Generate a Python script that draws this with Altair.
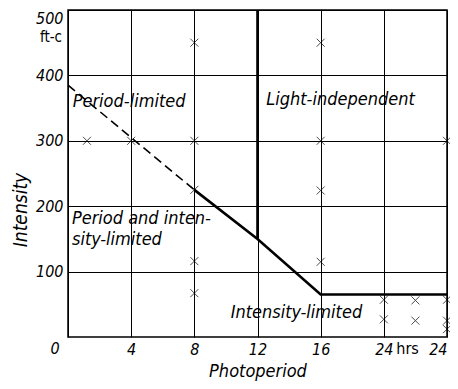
import altair as alt
import pandas as pd

# experimental points (photoperiod hrs, intensity ft-c)
pts_x = [1.2, 4, 8, 8, 8, 8, 8, 16, 16, 16, 16, 20, 20, 22, 22, 24, 24, 24, 24]
pts_y = [300, 300, 450, 300, 225, 116, 67, 450, 300, 224, 115, 57, 27, 56, 25, 300, 57, 25, 12]

# boundary lines
dash_x = [0, 8]
dash_y = [385, 225]
solid_x = [8, 12, 16, 24]
solid_y = [225, 150, 65, 65]
vert_x = [12, 12]
vert_y = [500, 150]

# region labels
lab_text = ["Period-limited", "Light-independent", "Period and inten-", "sity-limited", "Intensity-limited"]
lab_x = [0.3, 12.55, 0.25, 0.25, 10.3]
lab_y = [360, 362, 181, 148, 36]

x_ticks = [0, 4, 8, 12, 16, 20, 24]
y_ticks = [100, 200, 300, 400, 500]

FONT = "DejaVu Sans Condensed"

xs = alt.Scale(domain=[0, 24], nice=False)
ys = alt.Scale(domain=[0, 500], nice=False)

pts = pd.DataFrame({"x": pts_x, "y": pts_y})
dash = pd.DataFrame({"x": dash_x, "y": dash_y, "o": range(len(dash_x))})
solid = pd.DataFrame({"x": solid_x, "y": solid_y, "o": range(len(solid_x))})
vert = pd.DataFrame({"x": vert_x, "y": vert_y, "o": range(len(vert_x))})
labs = pd.DataFrame({"t": lab_text, "x": lab_x, "y": lab_y})

xaxis = alt.Axis(values=x_ticks, title=None, grid=True, ticks=False,
                 labelExpr="datum.value == 20 ? '24' : (datum.value == 0 ? '' : datum.label)",
                 labelPadding=4)
yaxis = alt.Axis(values=y_ticks, title=None, grid=True, ticks=False, labelPadding=5, labelFlush=True)

base_pts = alt.Chart(pts).mark_point(
    shape="M-1,-1L1,1M-1,1L1,-1", size=64, color="black", strokeWidth=1, filled=False
).encode(x=alt.X("x:Q", scale=xs, axis=xaxis), y=alt.Y("y:Q", scale=ys, axis=yaxis))

dashed = alt.Chart(dash).mark_line(color="black", strokeWidth=1.6, strokeDash=[9, 5]).encode(
    x=alt.X("x:Q", scale=xs), y=alt.Y("y:Q", scale=ys), order="o:Q")
solid_l = alt.Chart(solid).mark_line(color="black", strokeWidth=2.6).encode(
    x=alt.X("x:Q", scale=xs), y=alt.Y("y:Q", scale=ys), order="o:Q")
vert_l = alt.Chart(vert).mark_line(color="black", strokeWidth=2.6).encode(
    x=alt.X("x:Q", scale=xs), y=alt.Y("y:Q", scale=ys), order="o:Q")

region_text = alt.Chart(labs).mark_text(
    align="left", baseline="middle", font=FONT, fontStyle="italic", fontSize=18, color="black"
).encode(x=alt.X("x:Q", scale=xs), y=alt.Y("y:Q", scale=ys), text="t:N")

zero_t = alt.Chart(pd.DataFrame({"t": ["0"]})).mark_text(
    font=FONT, fontStyle="italic", fontSize=16, align="center", baseline="middle", color="black"
).encode(x=alt.value(-13), y=alt.value(339), text="t:N")
ftc = alt.Chart(pd.DataFrame({"t": ["ft-c"]})).mark_text(
    font=FONT, fontSize=15, align="right", baseline="middle", color="black"
).encode(x=alt.value(-6), y=alt.value(27), text="t:N")
hrs = alt.Chart(pd.DataFrame({"t": ["hrs"], "x": [21.5]})).mark_text(
    font=FONT, fontSize=16, align="center", baseline="middle", color="black"
).encode(x=alt.X("x:Q", scale=xs), y=alt.value(339), text="t:N")
ytitle = alt.Chart(pd.DataFrame({"t": ["Intensity"]})).mark_text(
    font=FONT, fontStyle="italic", fontSize=19, angle=270, align="center", baseline="middle",
    color="black").encode(x=alt.value(-47), y=alt.value(200), text="t:N")
xtitle = alt.Chart(pd.DataFrame({"t": ["Photoperiod"]})).mark_text(
    font=FONT, fontStyle="italic", fontSize=18, align="center", baseline="middle",
    color="black").encode(x=alt.value(190), y=alt.value(362), text="t:N")

chart = alt.layer(base_pts, dashed, solid_l, vert_l, region_text, zero_t, ftc, hrs, ytitle, xtitle).properties(
    width=379, height=327,
    autosize=alt.AutoSizeParams(type="none"),
    padding={"left": 60, "top": 2, "right": 3, "bottom": 44},
    background="white",
).configure_view(stroke="black", strokeWidth=1.5).configure_axis(
    gridColor="black", gridWidth=1, gridOpacity=1, domain=False,
    labelFont=FONT, labelFontStyle="italic", labelFontSize=16, labelColor="black",
)

chart.save("out.html", embed_options={"renderer": "svg", "actions": False})
